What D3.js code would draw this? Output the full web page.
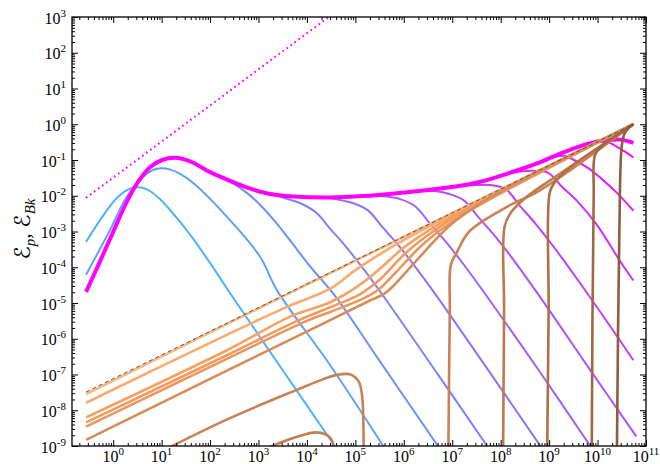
<!DOCTYPE html>
<html><head><meta charset="utf-8">
<script src="https://cdn.jsdelivr.net/npm/d3@7"></script>
<style>body{margin:0;background:#fff}svg{display:block}</style>
</head><body>
<svg id="chart" width="660" height="464"></svg>
<script>
// ---------- data (values as [log10 x, log10 y]) ----------
const xTickExps = [0,1,2,3,4,5,6,7,8,9,10,11];
const yTickExps = [-9,-8,-7,-6,-5,-4,-3,-2,-1,0,1,2,3];

const epTotal = [[-0.56,-4.69],[-0.27,-3.83],[0.0,-3.01],[0.27,-2.20],[0.51,-1.62],[0.76,-1.20],[1.01,-1.0],[1.28,-0.94],[1.59,-1.04],[2.0,-1.34],[2.48,-1.62],[2.83,-1.80],[3.24,-1.95],[3.80,-2.03],[4.48,-2.05],[5.16,-2.01],[5.86,-1.93],[6.55,-1.83],[7.17,-1.72],[7.58,-1.61],[8.14,-1.38],[8.82,-1.06],[9.25,-0.81],[9.65,-0.61],[10.06,-0.47],[10.47,-0.43],[10.74,-0.52]];

const epCurve1 = [[-0.56,-3.29],[-0.20,-2.54],[0.07,-2.07],[0.25,-1.87],[0.42,-1.77],[0.58,-1.77],[0.75,-1.86],[0.97,-2.10],[1.3,-2.60],[1.66,-3.22],[2.10,-4.08],[2.41,-4.72],[3.5,-6.88],[4.60,-9.05]];
const epCurve2 = [[-0.56,-4.21],[-0.065,-2.96],[0.28,-2.03],[0.62,-1.47],[0.82,-1.28],[1.0,-1.23],[1.18,-1.27],[1.40,-1.40],[1.66,-1.65],[2.35,-2.59],[3.03,-3.70],[3.38,-4.64],[4.48,-6.74],[5.60,-9.05]];
const epCurve3 = [[1.01,-1.0],[1.28,-0.94],[1.59,-1.04],[2.0,-1.34],[2.48,-1.66],[2.78,-1.94],[3.08,-2.32],[3.38,-2.78],[3.68,-3.30],[4.08,-4.00],[4.58,-4.80],[5.5,-6.62],[6.73,-9.05]];
const epCurve4 = [[3.0,-1.90],[3.3,-1.98],[3.6,-2.09],[3.9,-2.23],[4.19,-2.47],[4.49,-2.94],[4.79,-3.40],[5.19,-4.09],[5.69,-5.02],[6.7,-6.99],[7.74,-9.04]];
const epCurve5 = [[4.0,-2.04],[4.36,-2.05],[4.66,-2.11],[4.96,-2.21],[5.26,-2.41],[5.56,-2.88],[5.86,-3.34],[6.26,-4.03],[6.76,-4.96],[7.8,-6.99],[8.84,-9.04]];
const epCurve6 = [[5.0,-2.03],[5.34,-1.99],[5.64,-2.02],[5.94,-2.10],[6.24,-2.30],[6.54,-2.78],[6.84,-3.24],[7.24,-3.93],[7.74,-4.86],[8.8,-6.91],[9.87,-9.04]];
const epCurve7 = [[6.0,-1.91],[6.34,-1.86],[6.64,-1.87],[6.94,-1.95],[7.24,-2.13],[7.54,-2.60],[7.84,-3.06],[8.24,-3.75],[8.74,-4.69],[9.8,-6.78],[10.8,-8.73]];
const epCurve8 = [[7.0,-1.76],[7.2,-1.72],[7.5,-1.70],[7.8,-1.70],[8.1,-1.81],[8.4,-2.29],[8.7,-2.75],[9.1,-3.44],[9.6,-4.37],[10.2,-5.53],[10.74,-6.60]];
const epCurve9 = [[7.9,-1.49],[8.1,-1.40],[8.4,-1.32],[8.7,-1.30],[8.98,-1.36],[9.28,-1.77],[9.58,-2.15],[9.98,-2.80],[10.48,-3.86],[10.74,-4.37]];
const epCurve10 = [[8.8,-1.08],[9.1,-0.92],[9.3,-0.88],[9.51,-1.0],[9.8,-1.22],[10.06,-1.50],[10.4,-1.92],[10.74,-2.42]];
const epCurve11 = [[9.65,-0.62],[10.06,-0.49],[10.25,-0.52],[10.40,-0.63],[10.58,-0.78],[10.74,-0.93]];

const refDotted = [[-0.56,-2.06],[4.5,3.05]];
const refDashed = [[-0.56,-7.49],[10.74,0.0]];

const ebCurve1 = [[-0.56,-7.55],[3.0,-5.15],[10.74,0.0]];
const ebCurve2 = [[-0.56,-7.79],[2.41,-5.85],[3.6,-5.1],[4.48,-4.60],[5.0,-4.08],[5.5,-3.64],[6.2,-3.09],[7.0,-2.52],[10.74,0.0]];
const ebCurve3 = [[-0.56,-8.20],[2.41,-6.28],[3.65,-5.38],[4.48,-4.98],[5.03,-4.55],[5.5,-4.05],[6.0,-3.45],[6.6,-2.90],[7.4,-2.28],[10.74,0.0]];
const ebCurve4 = [[-0.56,-8.34],[2.41,-6.42],[3.8,-5.5],[4.48,-5.12],[5.1,-4.75],[5.5,-4.35],[6.0,-3.65],[6.5,-3.1],[7.2,-2.47],[10.74,0.0]];
const ebCurve5 = [[-0.56,-8.46],[2.41,-6.52],[4.0,-5.5],[4.48,-5.25],[5.2,-4.85],[5.5,-4.6],[5.9,-4.05],[6.4,-3.35],[7.0,-2.72],[7.8,-2.08],[10.74,0.0]];
const ebCurve6 = [[-0.56,-8.83],[2.41,-6.85],[4.48,-5.48],[5.3,-4.93],[5.6,-4.74],[5.8,-4.5],[6.27,-3.80],[6.96,-2.82],[7.6,-2.20],[8.5,-1.52],[10.74,0.0]];
const ebCurve7 = [[1.10,-9.08],[2.41,-8.22],[3.79,-7.43],[4.3,-7.15],[4.62,-7.01],[4.90,-7.00],[5.07,-7.20],[5.14,-7.61],[5.165,-8.36],[5.17,-9.1]];
const ebCurve8 = [[3.1,-9.1],[3.6,-8.83],[3.9,-8.70],[4.17,-8.62],[4.38,-8.67],[4.50,-8.80],[4.56,-9.1]];
const ebCurve9 = [[6.92,-9.1],[6.95,-5.2],[6.97,-3.94],[7.10,-3.57],[7.35,-3.0],[8.13,-2.31],[8.82,-1.84],[10.74,0.0]];
const ebCurve10 = [[8.05,-9.1],[8.07,-5.2],[8.08,-2.87],[8.20,-2.49],[8.54,-2.03],[9.03,-1.56],[10.74,0.0]];
const ebCurve11 = [[8.96,-9.1],[8.99,-5.2],[9.01,-1.93],[9.10,-1.65],[9.37,-1.28],[10.74,0.0]];
const ebCurve12 = [[9.88,-9.1],[9.92,-2.0],[9.95,-0.85],[10.1,-0.6],[10.4,-0.3],[10.74,0.0]];
const ebCurve13 = [[10.40,-9.1],[10.45,-3.0],[10.50,-0.6],[10.56,-0.25],[10.66,-0.08],[10.74,0.0]];

// ---------- styling ----------
const epCurves = [epCurve1,epCurve2,epCurve3,epCurve4,epCurve5,epCurve6,epCurve7,epCurve8,epCurve9,epCurve10,epCurve11];
const ebCurves = [ebCurve1,ebCurve2,ebCurve3,ebCurve4,ebCurve5,ebCurve6,ebCurve7,ebCurve8,ebCurve9,ebCurve10,ebCurve11,ebCurve12,ebCurve13];
const coolColor = t => d3.rgb(255*t, 255*(1-t), 255).formatHex();
const epColors = epCurves.map((c,i) => coolColor(0.30 + 0.065*i));
const ebColors = ["#fdb57c","#fbab70","#f6a265","#f09c60","#ea965c","#d98b57","#c98258","#c27d50","#cb8155","#c07a4a","#b07046","#a06842","#8f5e3c"];

const L=72, R=646, T=17, B=446;
const svg = d3.select("#chart");
const x = d3.scaleLog().domain([Math.pow(10,-0.85), 1e11]).range([L,R]);
const y = d3.scaleLog().domain([1e-9, 1e3]).range([B,T]);

svg.append("defs").append("clipPath").attr("id","clip")
  .append("rect").attr("x",L).attr("y",T).attr("width",R-L).attr("height",B-T);
const g = svg.append("g").attr("clip-path","url(#clip)");

const px = d => x(Math.pow(10,d[0])), py = d => y(Math.pow(10,d[1]));
const smooth = d3.line().x(px).y(py).curve(d3.curveMonotoneX);
const bendy = d3.line().x(px).y(py).curve(d3.curveCatmullRom.alpha(0.5));

epCurves.forEach((c,i) => g.append("path").attr("d",bendy(c)).attr("fill","none")
  .attr("stroke",epColors[i]).attr("stroke-width",2));
g.append("path").attr("d",bendy(epTotal)).attr("fill","none").attr("stroke","#ff00ff").attr("stroke-width",4);
g.append("path").attr("d",smooth(refDotted)).attr("fill","none").attr("stroke","#ff00ff")
  .attr("stroke-width",2.2).attr("stroke-dasharray","1.6,3.4");
ebCurves.forEach((c,i) => g.append("path").attr("d",bendy(c)).attr("fill","none")
  .attr("stroke",ebColors[i]).attr("stroke-width",2.6).attr("stroke-linejoin","round"));
g.append("path").attr("d",smooth(refDashed)).attr("fill","none").attr("stroke","#555")
  .attr("stroke-width",1).attr("stroke-dasharray","4,3");

// ---------- axes ----------
const xMaj = xTickExps.map(e => Math.pow(10,e));
const yMaj = yTickExps.map(e => Math.pow(10,e));
const xMin = [], yMin = [];
for (let e=-1; e<11; e++) for (let k=2;k<10;k++){ const v=k*Math.pow(10,e); if (v>=x.domain()[0] && v<=1e11) xMin.push(v); }
for (let e=-9; e<3; e++) for (let k=2;k<10;k++) yMin.push(k*Math.pow(10,e));

function drawAxis(gen, tr, vals, size){
  const a = svg.append("g").attr("transform",tr)
    .call(gen.tickValues(vals).tickSize(size).tickFormat(""));
  a.select(".domain").remove();
  a.selectAll("line").attr("stroke","#000").attr("stroke-width",1);
}
drawAxis(d3.axisBottom(x), `translate(0,${B})`, xMaj, -6);
drawAxis(d3.axisBottom(x), `translate(0,${B})`, xMin, -3);
drawAxis(d3.axisTop(x), `translate(0,${T})`, xMaj, -6);
drawAxis(d3.axisTop(x), `translate(0,${T})`, xMin, -3);
drawAxis(d3.axisLeft(y), `translate(${L},0)`, yMaj, -6);
drawAxis(d3.axisLeft(y), `translate(${L},0)`, yMin, -3);
drawAxis(d3.axisRight(y), `translate(${R},0)`, yMaj, -6);
drawAxis(d3.axisRight(y), `translate(${R},0)`, yMin, -3);
svg.append("rect").attr("x",L).attr("y",T).attr("width",R-L).attr("height",B-T)
  .attr("fill","none").attr("stroke","#000").attr("stroke-width",1.3);

const fam = "'Liberation Serif','Times New Roman',serif";
xTickExps.forEach(e => {
  const t = svg.append("text").attr("x", x(Math.pow(10,e))).attr("y", 462)
    .attr("text-anchor","middle").attr("font-family",fam).attr("font-size",16).attr("fill","#000");
  t.append("tspan").text("10");
  t.append("tspan").attr("dy",-7).attr("font-size",11).text(String(e));
});
yTickExps.forEach(e => {
  const t = svg.append("text").attr("x", 66).attr("y", y(Math.pow(10,e))+6.5)
    .attr("text-anchor","end").attr("font-family",fam).attr("font-size",16).attr("fill","#000");
  t.append("tspan").text("10");
  t.append("tspan").attr("dy",-7).attr("font-size",11).text(String(e));
});

// y title
const yt = svg.append("text").attr("transform","translate(30,229) rotate(-90)")
  .attr("text-anchor","middle").attr("font-family","'DejaVu Sans',sans-serif").attr("font-size",22).attr("fill","#000");
yt.append("tspan").text("ℰ");
yt.append("tspan").attr("font-style","italic").attr("font-size",15).attr("dy",5).attr("font-family",fam).text("p");
yt.append("tspan").attr("dy",-5).attr("font-family",fam).text(", ");
yt.append("tspan").text("ℰ");
yt.append("tspan").attr("font-style","italic").attr("font-size",15).attr("dy",5).attr("font-family",fam).text("Bk");
</script>
</body></html>
